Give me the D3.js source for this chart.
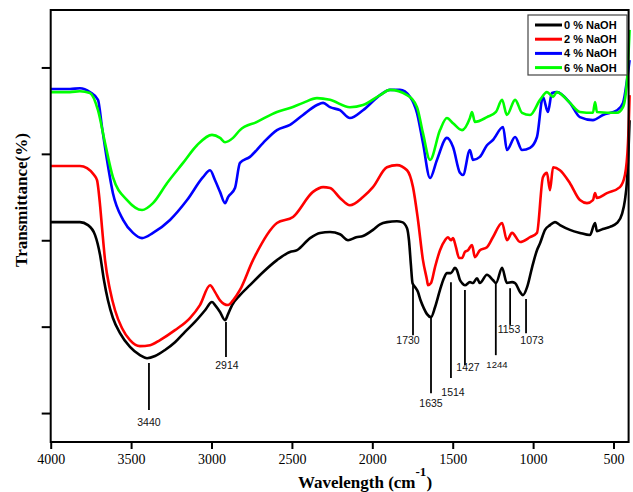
<!DOCTYPE html>
<html>
<head>
<meta charset="utf-8">
<script src="https://cdn.jsdelivr.net/npm/d3@7"></script>
<style>
  body { margin: 0; background: #fff; }
  .tick text { font-family: "Liberation Serif", "Times New Roman", serif; font-size: 14px; fill: #000; }
</style>
</head>
<body>
<div id="chart"></div>
<script>
/* DATA - [wavenumber (cm-1), transmittance (%)] */
const naoh0 = [[4000,44.2],[3880,44.2],[3818,44.2],[3768,43.5],[3724,41.2],[3693,36.6],[3669,30.8],[3644,26.1],
  [3613,22.0],[3569,18.5],[3507,15.3],[3445,13.4],[3401,12.7],[3351,13.2],[3289,14.6],[3227,16.4],[3165,18.8],
  [3103,21.1],[3040,23.8],[2997,25.7],[2978,25.0],[2947,23.4],[2916,21.5],[2897,22.9],[2872,25.0],[2823,27.3],
  [2761,29.6],[2680,32.6],[2593,35.4],[2512,37.3],[2468,37.7],[2387,40.5],[2325,41.7],[2263,41.9],[2201,41.4],
  [2151,40.0],[2100,40.7],[2058,41.0],[1996,42.4],[1952,43.7],[1909,44.2],[1847,44.4],[1815,44.2],[1784,42.8],
  [1772,40.0],[1760,34.3],[1750,30.1],[1735,29.2],[1716,28.0],[1700,26.1],[1680,24.3],[1660,22.9],[1635,22.2],
  [1610,24.5],[1579,28.5],[1555,31.2],[1536,32.4],[1511,32.4],[1486,33.6],[1474,33.1],[1455,30.8],[1442,30.1],
  [1424,29.6],[1393,30.3],[1374,30.1],[1349,31.2],[1331,30.1],[1287,32.0],[1250,30.8],[1231,30.1],[1193,33.6],
  [1163,30.1],[1131,30.3],[1112,30.1],[1081,28.0],[1063,27.3],[1037,29.2],[1006,33.8],[976,37.7],[957,39.3],
  [926,42.4],[895,43.5],[864,44.2],[833,43.5],[771,42.4],[709,41.7],[647,41.2],[615,44.0],[603,42.1],[566,42.6],
  [522,43.1],[478,44.0],[447,46.1],[429,49.3],[416,53.9],[408,59.7],[400,67.8]];

const naoh2 = [[4000,57.2],[3880,57.2],[3818,57.2],[3774,56.7],[3730,55.1],[3712,53.9],[3693,48.1],[3681,43.0],
  [3662,35.4],[3631,28.5],[3600,23.8],[3557,19.7],[3507,16.9],[3445,15.5],[3382,15.7],[3320,16.9],[3227,19.2],
  [3134,22.0],[3072,25.0],[3009,29.6],[2978,28.0],[2947,26.1],[2897,25.0],[2866,26.1],[2823,28.5],[2742,35.4],
  [2593,44.0],[2493,45.4],[2369,51.2],[2306,52.3],[2263,52.1],[2201,49.8],[2139,48.1],[2058,50.0],[1996,52.3],
  [1909,56.9],[1847,57.4],[1784,56.2],[1747,52.3],[1716,44.7],[1685,35.4],[1660,30.8],[1654,29.6],[1635,30.1],
  [1610,33.8],[1579,37.7],[1548,40.0],[1530,40.7],[1511,40.0],[1498,40.5],[1480,38.4],[1460,35.9],[1442,35.9],
  [1424,37.3],[1405,37.7],[1380,38.9],[1362,36.1],[1331,37.7],[1287,38.4],[1250,40.7],[1193,44.0],[1163,40.0],
  [1131,41.7],[1081,39.6],[1019,40.7],[976,41.7],[939,54.6],[914,55.6],[895,51.6],[876,56.9],[833,56.2],
  [771,53.2],[709,49.3],[665,48.6],[628,49.3],[615,50.9],[603,49.8],[541,50.9],[460,52.3],[429,55.1],[410,62.5],
  [400,73.6]];

const naoh4 = [[4000,75.0],[3880,75.0],[3818,75.2],[3756,74.3],[3706,72.5],[3681,66.2],[3650,58.6],[3613,50.9],
  [3550,44.7],[3488,41.7],[3432,40.5],[3364,41.7],[3258,44.7],[3152,49.3],[3053,54.6],[3009,56.2],[2978,53.9],
  [2947,51.2],[2916,48.6],[2897,50.0],[2854,52.1],[2823,57.9],[2761,59.3],[2680,62.5],[2593,65.5],[2512,66.7],
  [2431,69.0],[2344,71.3],[2306,71.8],[2263,70.8],[2201,70.1],[2139,68.3],[2058,70.1],[1952,73.6],[1890,74.8],
  [1828,74.8],[1766,73.2],[1722,69.4],[1685,62.5],[1641,54.4],[1598,58.6],[1536,63.7],[1498,61.6],[1455,55.6],
  [1436,55.1],[1393,60.9],[1374,58.6],[1331,59.3],[1287,62.0],[1250,63.2],[1187,66.2],[1163,60.9],[1112,63.9],
  [1069,60.9],[1019,61.4],[976,63.9],[939,73.2],[908,69.7],[883,74.1],[852,74.3],[771,71.8],[709,68.5],
  [628,67.8],[566,69.0],[478,70.1],[441,71.8],[416,77.1],[400,81.7]];

const naoh6 = [[4000,74.3],[3880,74.3],[3818,74.5],[3756,74.1],[3706,70.1],[3662,62.5],[3613,54.6],[3525,49.3],
  [3432,47.0],[3364,48.6],[3277,53.2],[3177,57.9],[3090,62.0],[2997,64.4],[2947,63.7],[2916,62.7],[2866,63.7],
  [2823,65.5],[2717,67.4],[2593,69.7],[2512,70.6],[2431,71.8],[2344,72.9],[2263,72.5],[2139,70.8],[2058,71.3],
  [1952,73.6],[1890,74.8],[1784,73.6],[1722,70.8],[1685,64.8],[1641,58.6],[1579,65.5],[1536,68.3],[1498,67.1],
  [1442,65.5],[1393,68.3],[1380,69.7],[1362,67.4],[1287,68.5],[1231,69.7],[1193,72.5],[1163,69.0],[1112,72.5],
  [1069,69.5],[1019,69.0],[957,72.5],[914,74.3],[876,73.2],[852,74.3],[771,71.8],[709,69.7],[628,69.5],
  [615,72.0],[603,69.7],[478,69.5],[441,70.8],[416,77.1],[400,88.7]];

const seriesNames = ["0 % NaOH", "2 % NaOH", "4 % NaOH", "6 % NaOH"];
const seriesColors = ["#000000", "#ff0000", "#0000ff", "#00ff00"];
const xTicks = [4000, 3500, 3000, 2500, 2000, 1500, 1000, 500];
const yTicks = [0, 20, 40, 60, 80];

// peak labels: text, wavenumber of the leader line, line top/bottom, label x / baseline
const peaks = [
  { label: "3440", w: 3389, top: 11.6, bottom: 0.7, lw: 3389, lv: -3.0 },
  { label: "2914", w: 2910, top: 21.1, bottom: 13.0, lw: 2904, lv: 10.2 },
  { label: "1730", w: 1747, top: 29.6, bottom: 18.0, lw: 1778, lv: 16.0 },
  { label: "1635", w: 1635, top: 22.0, bottom: 4.6, lw: 1635, lv: 1.4 },
  { label: "1514", w: 1511, top: 30.3, bottom: 8.1, lw: 1498, lv: 3.9 },
  { label: "1427", w: 1424, top: 28.5, bottom: 11.1, lw: 1405, lv: 9.7 },
  { label: "1244", w: 1232, top: 30.1, bottom: 13.4, lw: 1225, lv: 10.4 },
  { label: "1153", w: 1143, top: 28.9, bottom: 20.4, lw: 1150, lv: 18.5 },
  { label: "1073", w: 1044, top: 26.4, bottom: 18.5, lw: 1007, lv: 16.0 }
];

/* CONSTANTS */
const width = 633, height = 492,
  margin = { top: 10, right: 3.4, bottom: 50, left: 50.7 };

const svg = d3.select("#chart").append("svg")
  .attr("width", width)
  .attr("height", height);

const xScale = d3.scaleLinear()
  .domain([4000, 400])
  .range([margin.left, width - margin.right]);

const yScale = d3.scaleLinear()
  .domain([-6.7, 93.3])
  .range([height - margin.bottom, margin.top]);

// lines
const lineGen = d3.line()
  .x(d => xScale(d[0]))
  .y(d => yScale(d[1]))
  .curve(d3.curveMonotoneX);

svg.selectAll("path.spectrum")
  .data([naoh0, naoh2, naoh4, naoh6])
  .join("path")
  .attr("class", "spectrum")
  .attr("d", d => lineGen(d))
  .attr("fill", "none")
  .attr("stroke", (d, i) => seriesColors[i])
  .attr("stroke-width", 2.6)
  .attr("stroke-linejoin", "round");

// peak annotations
svg.selectAll("line.peak")
  .data(peaks)
  .join("line")
  .attr("class", "peak")
  .attr("x1", d => xScale(d.w))
  .attr("x2", d => xScale(d.w))
  .attr("y1", d => yScale(d.top))
  .attr("y2", d => yScale(d.bottom))
  .attr("stroke", "#000")
  .attr("stroke-width", 1.8);

svg.selectAll("text.peak")
  .data(peaks)
  .join("text")
  .attr("class", "peak")
  .attr("x", d => xScale(d.lw))
  .attr("y", d => yScale(d.lv))
  .attr("text-anchor", "middle")
  .attr("font-family", "'Liberation Sans', Arial, sans-serif")
  .attr("font-size", d => d.label === "1244" ? 9.5 : 10.5)
  .attr("fill", "#111")
  .text(d => d.label);

// axes
const xAxis = d3.axisBottom(xScale).tickValues(xTicks).tickSize(7).tickPadding(5).tickFormat(d3.format("d"));
const yAxis = d3.axisLeft(yScale).tickValues(yTicks).tickSize(9).tickFormat("");

const xAxisGroup = svg.append("g")
  .attr("transform", `translate(0, ${height - margin.bottom})`)
  .call(xAxis);
const yAxisGroup = svg.append("g")
  .attr("transform", `translate(${margin.left}, 0)`)
  .call(yAxis);

svg.selectAll(".domain").remove();
svg.selectAll(".tick line").attr("stroke", "#000").attr("stroke-width", 2);

// frame
svg.append("rect")
  .attr("x", margin.left)
  .attr("y", margin.top)
  .attr("width", width - margin.left - margin.right - 1)
  .attr("height", height - margin.top - margin.bottom)
  .attr("fill", "none")
  .attr("stroke", "#000")
  .attr("stroke-width", 2);

// axis titles
const xTitle = svg.append("text")
  .attr("x", 365)
  .attr("y", height - 4)
  .attr("text-anchor", "middle")
  .attr("font-family", "'Liberation Serif', 'Times New Roman', serif")
  .attr("font-weight", "bold")
  .attr("font-size", 17);
xTitle.append("tspan").text("Wavelength (cm");
xTitle.append("tspan").attr("dy", -12).attr("font-size", 13).text("-1");
xTitle.append("tspan").attr("dy", 12).text(")");

svg.append("text")
  .attr("transform", `translate(21, 200) rotate(-90)`)
  .attr("text-anchor", "middle")
  .attr("dy", "0.35em")
  .attr("font-family", "'Liberation Serif', 'Times New Roman', serif")
  .attr("font-weight", "bold")
  .attr("font-size", 17)
  .text("Transmittance(%)");

// legend
const legend = svg.append("g").attr("transform", "translate(528, 15)");
legend.append("rect")
  .attr("width", 99)
  .attr("height", 60)
  .attr("fill", "#fff")
  .attr("stroke", "#444")
  .attr("stroke-width", 1.2);

const legendItems = legend.selectAll("g.item")
  .data(seriesNames)
  .join("g")
  .attr("class", "item")
  .attr("transform", (d, i) => `translate(0, ${10 + i * 14.2})`);

legendItems.append("line")
  .attr("x1", 7).attr("x2", 34)
  .attr("stroke", (d, i) => seriesColors[i])
  .attr("stroke-width", 3);

legendItems.append("text")
  .attr("x", 36)
  .attr("dy", "0.36em")
  .attr("font-family", "'Liberation Sans', Arial, sans-serif")
  .attr("font-weight", "bold")
  .attr("font-size", 11)
  .text(d => d);
</script>
</body>
</html>
